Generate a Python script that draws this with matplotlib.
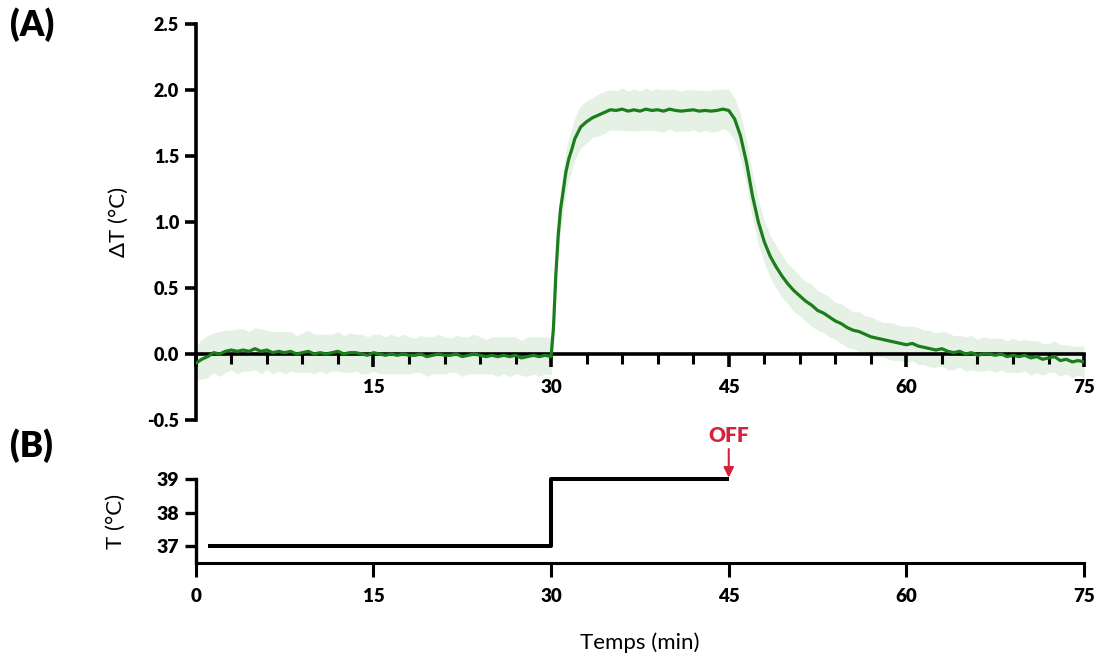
import matplotlib
matplotlib.use("Agg")
import matplotlib.pyplot as plt
import numpy as np
from matplotlib.ticker import MultipleLocator

plt.rcParams['font.family'] = ['Lato', 'DejaVu Sans']

# ---------------- data ----------------
# Panel A: time (min) and mean delta T (°C) with SD band
time_base = [0, 0.5, 1, 1.5, 2, 2.5, 3, 3.5, 4, 4.5, 5, 5.5, 6, 6.5, 7, 7.5, 8, 8.5, 9, 9.5,
             10, 10.5, 11, 11.5, 12, 12.5, 13, 13.5, 14, 14.5, 15, 15.5, 16, 16.5, 17, 17.5,
             18, 18.5, 19, 19.5, 20, 20.5, 21, 21.5, 22, 22.5, 23, 23.5, 24, 24.5, 25, 25.5,
             26, 26.5, 27, 27.5, 28, 28.5, 29, 29.5, 30]
dT_base = [-0.07, -0.04, -0.02, 0.01, 0.00, 0.02, 0.03, 0.02, 0.03, 0.02, 0.04, 0.02, 0.03,
           0.01, 0.02, 0.01, 0.02, 0.00, 0.01, 0.02, 0.00, 0.01, 0.00, 0.01, 0.02, 0.00, 0.01,
           0.01, 0.00, -0.01, 0.01, 0.00, -0.01, 0.00, -0.01, 0.00, -0.01, -0.01, 0.00, -0.02,
           -0.01, 0.00, -0.01, -0.01, 0.00, -0.02, -0.01, 0.00, -0.01, -0.02, -0.01, -0.02,
           -0.01, -0.02, -0.01, -0.03, -0.02, -0.01, -0.02, -0.01, -0.02]
sd_base = [0.13, 0.15, 0.16, 0.15, 0.17, 0.16, 0.15, 0.17, 0.16, 0.15, 0.16, 0.17, 0.15,
           0.16, 0.15, 0.16, 0.15, 0.14, 0.15, 0.16, 0.15, 0.14, 0.15, 0.14, 0.15, 0.14, 0.15,
           0.14, 0.15, 0.14, 0.14, 0.15, 0.14, 0.15, 0.14, 0.15, 0.14, 0.13, 0.14, 0.15,
           0.14, 0.15, 0.14, 0.13, 0.14, 0.15, 0.14, 0.15, 0.14, 0.13, 0.14, 0.15, 0.14,
           0.15, 0.14, 0.13, 0.15, 0.14, 0.15, 0.14, 0.14]

time_rise = [30.2, 30.4, 30.6, 30.8, 31, 31.25, 31.5, 31.75, 32, 32.5, 33, 33.5, 34, 34.5, 35]
dT_rise = [0.20, 0.60, 0.90, 1.10, 1.22, 1.38, 1.48, 1.55, 1.63, 1.72, 1.76, 1.79, 1.81, 1.83, 1.85]
sd_rise = [0.15, 0.16, 0.16, 0.16, 0.16, 0.16, 0.16, 0.16, 0.16, 0.16, 0.16, 0.15, 0.16, 0.16, 0.15]

time_plateau = [35.5, 36, 36.5, 37, 37.5, 38, 38.5, 39, 39.5, 40, 40.5, 41, 41.5, 42, 42.5,
                43, 43.5, 44, 44.5, 45]
dT_plateau = [1.845, 1.855, 1.84, 1.85, 1.84, 1.855, 1.845, 1.85, 1.84, 1.855, 1.845, 1.84,
              1.845, 1.85, 1.84, 1.845, 1.84, 1.845, 1.855, 1.845]
sd_plateau = [0.15, 0.16, 0.15, 0.16, 0.15, 0.16, 0.15, 0.16, 0.16, 0.15, 0.16, 0.15, 0.16,
              0.15, 0.16, 0.15, 0.16, 0.16, 0.15, 0.16]

time_decay = [45.5, 46, 46.5, 47, 47.5, 48, 48.5, 49, 49.5, 50, 50.5, 51, 51.5, 52, 52.5, 53,
              53.5, 54, 54.5, 55, 55.5, 56, 56.5, 57, 57.5, 58, 58.5, 59, 59.5, 60, 60.5, 61,
              61.5, 62, 62.5, 63, 63.5, 64, 64.5, 65, 65.5, 66, 66.5, 67, 67.5, 68, 68.5, 69,
              69.5, 70, 70.5, 71, 71.5, 72, 72.5, 73, 73.5, 74, 74.5, 75]
dT_decay = [1.78, 1.65, 1.45, 1.20, 1.00, 0.85, 0.74, 0.66, 0.59, 0.53, 0.48, 0.44, 0.40, 0.37,
            0.33, 0.31, 0.28, 0.25, 0.23, 0.20, 0.18, 0.17, 0.15, 0.13, 0.12, 0.11, 0.10, 0.09,
            0.08, 0.07, 0.08, 0.06, 0.05, 0.04, 0.03, 0.04, 0.02, 0.01, 0.02, 0.00, 0.01, -0.01,
            0.00, 0.00, -0.01, 0.00, -0.02, -0.01, -0.02, -0.01, -0.03, -0.02, -0.04, -0.03,
            -0.02, -0.05, -0.04, -0.06, -0.05, -0.06]
sd_decay = [0.16, 0.17, 0.17, 0.17, 0.17, 0.16, 0.16, 0.16, 0.16, 0.15, 0.16, 0.15, 0.15, 0.16,
            0.15, 0.15, 0.15, 0.14, 0.15, 0.15, 0.14, 0.15, 0.14, 0.15, 0.14, 0.13, 0.14, 0.14,
            0.13, 0.14, 0.13, 0.14, 0.13, 0.14, 0.13, 0.13, 0.14, 0.13, 0.12, 0.13, 0.13, 0.12,
            0.13, 0.12, 0.13, 0.12, 0.12, 0.13, 0.12, 0.12, 0.13, 0.12, 0.12, 0.11, 0.12, 0.12,
            0.11, 0.12, 0.11, 0.12]

# Panel B: temperature protocol
time_T = [1, 30, 30, 45]
temp_T = [37, 37, 39, 39]

xticks = [0, 15, 30, 45, 60, 75]
yticks_A = [-0.5, 0.0, 0.5, 1.0, 1.5, 2.0, 2.5]
yticks_B = [37, 38, 39]

# ---------------- figure ----------------
t = np.array(time_base + time_rise + time_plateau + time_decay)
m = np.array(dT_base + dT_rise + dT_plateau + dT_decay)
sd = np.array(sd_base + sd_rise + sd_plateau + sd_decay)

fig = plt.figure(figsize=(11, 6.59), dpi=100)
axA = fig.add_axes([0.178, 0.3627, 0.8075, 0.6009])
axB = fig.add_axes([0.178, 0.1457, 0.8075, 0.1274])

green = '#1b7d1b'
axA.fill_between(t, m - sd, m + sd, color='#e4f1e4', lw=0, zorder=1)
axA.plot(t, m, color=green, lw=2.3, zorder=3)

axA.set_xlim(0, 75)
axA.set_ylim(-0.5, 2.5)
for s in ['top', 'right']:
    axA.spines[s].set_visible(False)
axA.spines['bottom'].set_position(('data', 0))
axA.spines['bottom'].set_linewidth(2.6)
axA.spines['left'].set_linewidth(2.6)
axA.spines['bottom'].set_zorder(2)
axA.set_xticks(xticks)
axA.set_xticklabels(['' if v == 0 else str(v) for v in xticks])
axA.xaxis.set_minor_locator(MultipleLocator(3))
axA.set_yticks(yticks_A)
axA.set_yticklabels([f'{v:.1f}' for v in yticks_A])
axA.tick_params(axis='x', which='major', direction='out', length=9, width=2.6,
                labelsize=13.5, pad=9)
axA.tick_params(axis='x', which='minor', direction='out', length=7, width=2.2)
axA.tick_params(axis='y', direction='out', length=8, width=2.6, labelsize=13, pad=4)
for lab in axA.get_xticklabels() + axA.get_yticklabels():
    lab.set_fontweight('heavy')
axA.set_ylabel('ΔT (°C)', fontsize=16, labelpad=13)
axA.patch.set_alpha(0)

axB.plot(time_T, temp_T, color='black', lw=2.9, solid_capstyle='butt', clip_on=False)
axB.set_xlim(0, 75)
axB.set_ylim(36.5, 39)
for s in ['top', 'right']:
    axB.spines[s].set_visible(False)
axB.spines['bottom'].set_linewidth(2.2)
axB.spines['left'].set_linewidth(2.4)
axB.set_xticks(xticks)
axB.set_yticks(yticks_B)
axB.tick_params(axis='x', direction='out', length=10, width=2.2, labelsize=13.5, pad=8)
axB.tick_params(axis='y', direction='out', length=8, width=2.4, labelsize=14, pad=4)
for lab in axB.get_xticklabels() + axB.get_yticklabels():
    lab.set_fontweight('heavy')
axB.set_ylabel('T (°C)', fontsize=16, labelpad=22)
axB.set_xlabel('Temps (min)', fontsize=16, labelpad=20)

axB.annotate('OFF', xy=(45, 39), xytext=(45, 40.3), ha='center', va='center',
             color='#d4213d', fontsize=15, fontweight='heavy',
             arrowprops=dict(arrowstyle='-|>', color='#d4213d', lw=1.5,
                             mutation_scale=15, shrinkA=1, shrinkB=1),
             annotation_clip=False)

fig.text(0.009, 0.962, '(A)', fontsize=25, fontweight='heavy', va='center', ha='left')
fig.text(0.009, 0.323, '(B)', fontsize=25, fontweight='heavy', va='center', ha='left')

fig.savefig('out.png', dpi=100)
